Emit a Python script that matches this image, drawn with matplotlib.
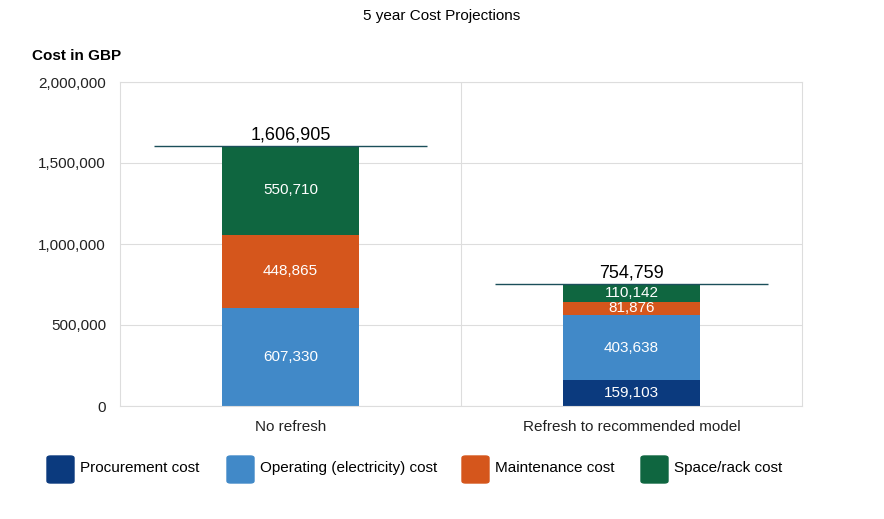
import matplotlib.pyplot as plt
from matplotlib.patches import FancyBboxPatch
import numpy as np

plt.rcParams["font.family"] = ["Liberation Sans", "DejaVu Sans"]

# === Daten ===
categories = ["No refresh", "Refresh to recommended model"]
series_names = ["Procurement cost", "Operating (electricity) cost", "Maintenance cost", "Space/rack cost"]
procurement = [0, 159103]
operating = [607330, 403638]
maintenance = [448865, 81876]
space_rack = [550710, 110142]

colors = ["#0b3a7e", "#4189c8", "#d5561c", "#0f6640"]
series = [procurement, operating, maintenance, space_rack]

fig = plt.figure(figsize=(8.84, 5.19), dpi=100)
ax = fig.add_axes([120/884, 113/519, 682/884, 324/519])

x = np.arange(len(categories))
bottom = np.zeros(len(categories))
for vals, col in zip(series, colors):
    vals = np.array(vals, dtype=float)
    ax.bar(x, vals, bottom=bottom, width=0.4, color=col, zorder=2)
    for xi, v, b in zip(x, vals, bottom):
        if v > 0:
            ax.text(xi, b + v / 2, f"{int(v):,}", ha="center", va="center",
                    color="white", fontsize=11, zorder=3)
    bottom += vals

# Summenlinien
totals = bottom
for xi, t in zip(x, totals):
    ax.hlines(t, xi - 0.4, xi + 0.4, color="#1b4f5a", lw=1, zorder=3)
    ax.text(xi, t + 12000, f"{int(t):,}", ha="center", va="bottom",
            color="black", fontsize=13, zorder=3)

ax.set_xlim(-0.5, 1.5)
ax.set_ylim(0, 2000000)
ax.set_yticks(np.arange(0, 2000001, 500000))
ax.set_yticklabels([f"{int(v):,}" for v in np.arange(0, 2000001, 500000)])
ax.set_xticks(x)
ax.set_xticklabels(categories)
ax.tick_params(length=0, labelsize=11, colors="#222222", pad=10)
ax.grid(axis="y", color="#dddddd", lw=0.8, zorder=0)
ax.axvline(0.5, color="#dddddd", lw=0.8, zorder=0)
for s in ax.spines.values():
    s.set_color("#dddddd")

fig.text(0.5, 1 - 16/519, "5 year Cost Projections", ha="center", va="center", fontsize=11)
fig.text(32/884, 1 - 56/519, "Cost in GBP", ha="left", va="center", fontsize=11, weight="bold")

# === Legende ===
box_x = [47, 227, 462, 641]
for bx, name, col in zip(box_x, series_names, colors):
    fig.patches.append(FancyBboxPatch((bx/884, 1 - 483/519), 27/884, 27/519,
                                      boxstyle="round,pad=0,rounding_size=0.004",
                                      transform=fig.transFigure, color=col))
    fig.text((bx + 33)/884, 1 - 468/519, name, ha="left", va="center", fontsize=11)

fig.savefig("out.png", dpi=100)
